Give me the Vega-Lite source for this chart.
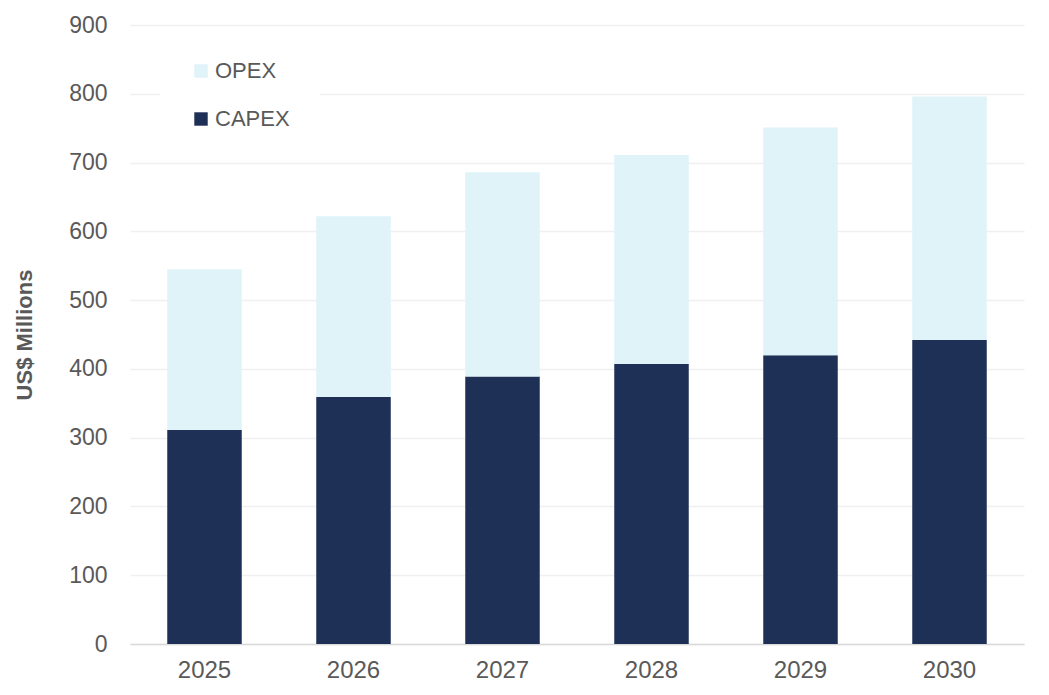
{
  "$schema": "https://vega.github.io/schema/vega-lite/v6.json",
  "autosize": {"type": "none"},
  "width": 894,
  "height": 619,
  "padding": {"left": 130, "top": 25, "right": 25, "bottom": 51},
  "background": "white",
  "config": {
    "font": "Liberation Sans",
    "view": {"stroke": null}
  },
  "data": {
    "values": [
      {"year": "2025", "type": "CAPEX", "value": 311},
      {"year": "2025", "type": "OPEX", "value": 234},
      {"year": "2026", "type": "CAPEX", "value": 359},
      {"year": "2026", "type": "OPEX", "value": 263},
      {"year": "2027", "type": "CAPEX", "value": 389},
      {"year": "2027", "type": "OPEX", "value": 297},
      {"year": "2028", "type": "CAPEX", "value": 407},
      {"year": "2028", "type": "OPEX", "value": 304},
      {"year": "2029", "type": "CAPEX", "value": 420},
      {"year": "2029", "type": "OPEX", "value": 331},
      {"year": "2030", "type": "CAPEX", "value": 442},
      {"year": "2030", "type": "OPEX", "value": 354}
    ]
  },
  "mark": {"type": "bar"},
  "encoding": {
    "x": {
      "field": "year",
      "type": "nominal",
      "scale": {"paddingInner": 0.5, "paddingOuter": 0.25},
      "axis": {
        "title": null,
        "labelAngle": 0,
        "labelFontSize": 24,
        "labelColor": "#595959",
        "labelPadding": 14,
        "ticks": false,
        "domainColor": "#d9d9d9",
        "domainWidth": 1.5,
        "grid": false
      }
    },
    "y": {
      "field": "value",
      "type": "quantitative",
      "stack": "zero",
      "scale": {"domain": [0, 900]},
      "axis": {
        "title": "US$ Millions",
        "titleFontSize": 22,
        "titleFontWeight": "bold",
        "titleColor": "#595959",
        "titlePadding": 32,
        "values": [0, 100, 200, 300, 400, 500, 600, 700, 800, 900],
        "labelFontSize": 23,
        "labelColor": "#595959",
        "labelPadding": 23,
        "ticks": false,
        "domain": false,
        "gridColor": "#f0f0f0",
        "gridWidth": 1.5
      }
    },
    "color": {
      "field": "type",
      "type": "nominal",
      "scale": {"domain": ["OPEX", "CAPEX"], "range": ["#dff3f9", "#1f3057"]},
      "legend": {
        "title": null,
        "orient": "none",
        "legendX": 30,
        "legendY": 5,
        "padding": 30,
        "fillColor": "white",
        "symbolType": "square",
        "symbolSize": 180,
        "symbolStrokeWidth": 0,
        "labelFontSize": 22,
        "labelColor": "#595959",
        "labelOffset": 3,
        "rowPadding": 26
      }
    },
    "order": {"field": "type", "sort": "ascending"}
  }
}
